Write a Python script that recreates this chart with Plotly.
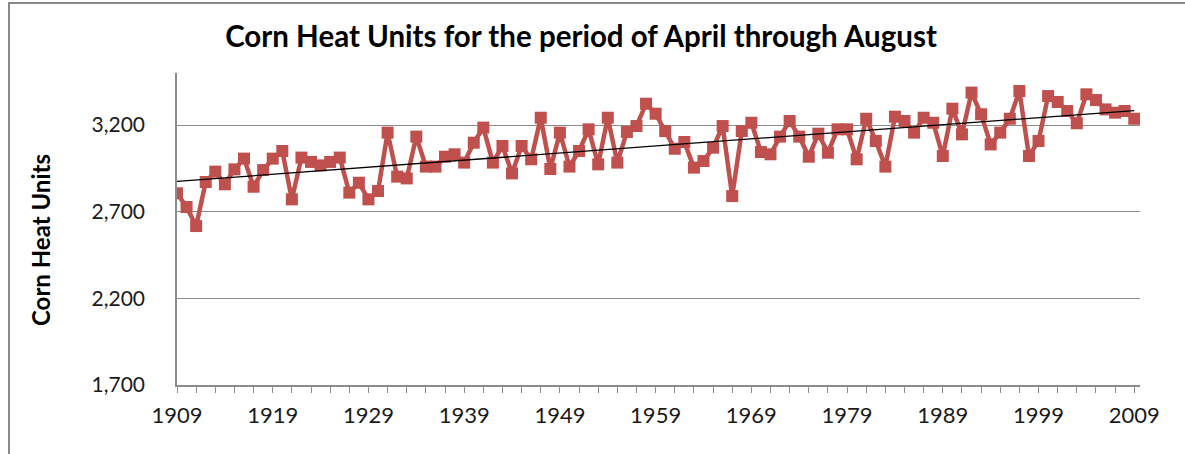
import numpy as np
import plotly.graph_objects as go

years = list(range(1909, 2010))
chu = [
    2806, 2727, 2617, 2871, 2931, 2858, 2944, 3006, 2844, 2940,   # 1909-1918
    3006, 3050, 2771, 3012, 2987, 2967, 2987, 3012, 2810, 2867,   # 1919-1928
    2771, 2819, 3156, 2902, 2892, 3133, 2960, 2960, 3017, 3031,   # 1929-1938
    2983, 3098, 3185, 2983, 3079, 2921, 3079, 3002, 3242, 2946,   # 1939-1948
    3156, 2960, 3050, 3175, 2973, 3242, 2983, 3160, 3194, 3323,   # 1949-1958
    3265, 3165, 3063, 3102, 2954, 2992, 3069, 3194, 2790, 3165,   # 1959-1968
    3213, 3044, 3031, 3133, 3223, 3133, 3017, 3150, 3040, 3175,   # 1969-1978
    3175, 3002, 3236, 3108, 2960, 3248, 3223, 3156, 3242, 3213,   # 1979-1988
    3021, 3294, 3146, 3387, 3262, 3088, 3156, 3236, 3396, 3021,   # 1989-1998
    3108, 3367, 3333, 3281, 3210, 3377, 3344, 3290, 3271, 3281,   # 1999-2008
    3236,                                                         # 2009
]
y_ticks = [1700, 2200, 2700, 3200]
y_tick_text = ["1,700", "2,200", "2,700", "3,200"]
x_ticks = list(range(1909, 2010, 10))

# linear trend line (least-squares fit to the series)
coef = np.polyfit(years, chu, 1)
trend = np.polyval(coef, [years[0], years[-1]])

RED = "#C0504D"
GRID = "#8C8C8C"
FONT = "Lato, 'Open Sans', sans-serif"

fig = go.Figure()
fig.add_trace(go.Scatter(
    x=years, y=chu, mode="lines+markers",
    line=dict(color=RED, width=4.5),
    marker=dict(symbol="square", size=12, color=RED),
    showlegend=False, hoverinfo="x+y",
))
fig.add_trace(go.Scatter(
    x=[years[0], years[-1]], y=trend, mode="lines",
    line=dict(color="#000000", width=1.3),
    showlegend=False, hoverinfo="skip",
))

W, H = 1185, 454
# plot area in page pixels: x 177..1140, y 73..385
L = 177
R = W - 1140
T = 73
B = H - 385
pw, ph = W - L - R, H - T - B

def px_to_paper_x(px):
    return (px - L) / pw

def px_to_paper_y(py):
    return (H - B - py) / ph

fig.update_layout(
    width=W, height=H,
    margin=dict(l=L, r=R, t=T, b=B, pad=0),
    paper_bgcolor="white", plot_bgcolor="white",
    font=dict(family=FONT, color="#000000", size=22),
    title=dict(
        text="<b>Corn Heat Units for the period of April through August</b>",
        x=581 / W, xanchor="center", y=1 - 37 / H, yanchor="middle",
        font=dict(family=FONT, size=29.5, color="#000000"),
    ),
    xaxis=dict(
        range=[1909, 2009.6],
        tickmode="array", tickvals=x_ticks, ticktext=[str(v) for v in x_ticks],
        ticks="outside", ticklen=6, tickcolor=GRID, tickwidth=1,
        minor=dict(dtick=2, tick0=1909, ticks="outside", ticklen=6,
                   tickcolor=GRID, tickwidth=1, showgrid=False),
        showgrid=False, zeroline=False,
        showline=True, linecolor=GRID, linewidth=1.5,
        tickfont=dict(family=FONT, size=22, color="#1a1a1a"),
        ticklabelstandoff=4,
    ),
    yaxis=dict(
        range=[1700, 3500],
        tickmode="array", tickvals=y_ticks, ticktext=y_tick_text,
        ticks="", showgrid=True, gridcolor=GRID, gridwidth=1,
        zeroline=False, showline=True, linecolor=GRID, linewidth=1.5,
        tickfont=dict(family=FONT, size=21, color="#1a1a1a"),
        ticklabelstandoff=26,
    ),
    annotations=[dict(
        text="<b>Corn Heat Units</b>", textangle=-90,
        xref="paper", yref="paper",
        x=px_to_paper_x(40), y=px_to_paper_y(240),
        xanchor="center", yanchor="middle", showarrow=False,
        font=dict(family=FONT, size=24, color="#000000"),
    )],
    shapes=[dict(
        type="rect", xref="paper", yref="paper",
        x0=px_to_paper_x(9), x1=px_to_paper_x(1200),
        y0=px_to_paper_y(470), y1=px_to_paper_y(3),
        line=dict(color="#8A8A8A", width=2), fillcolor="rgba(0,0,0,0)",
        layer="below",
    )],
)

fig.write_html(
    "out.html",
    config={"displayModeBar": False},
    post_script="document.body.style.margin='0';document.body.style.overflow='hidden';",
)
